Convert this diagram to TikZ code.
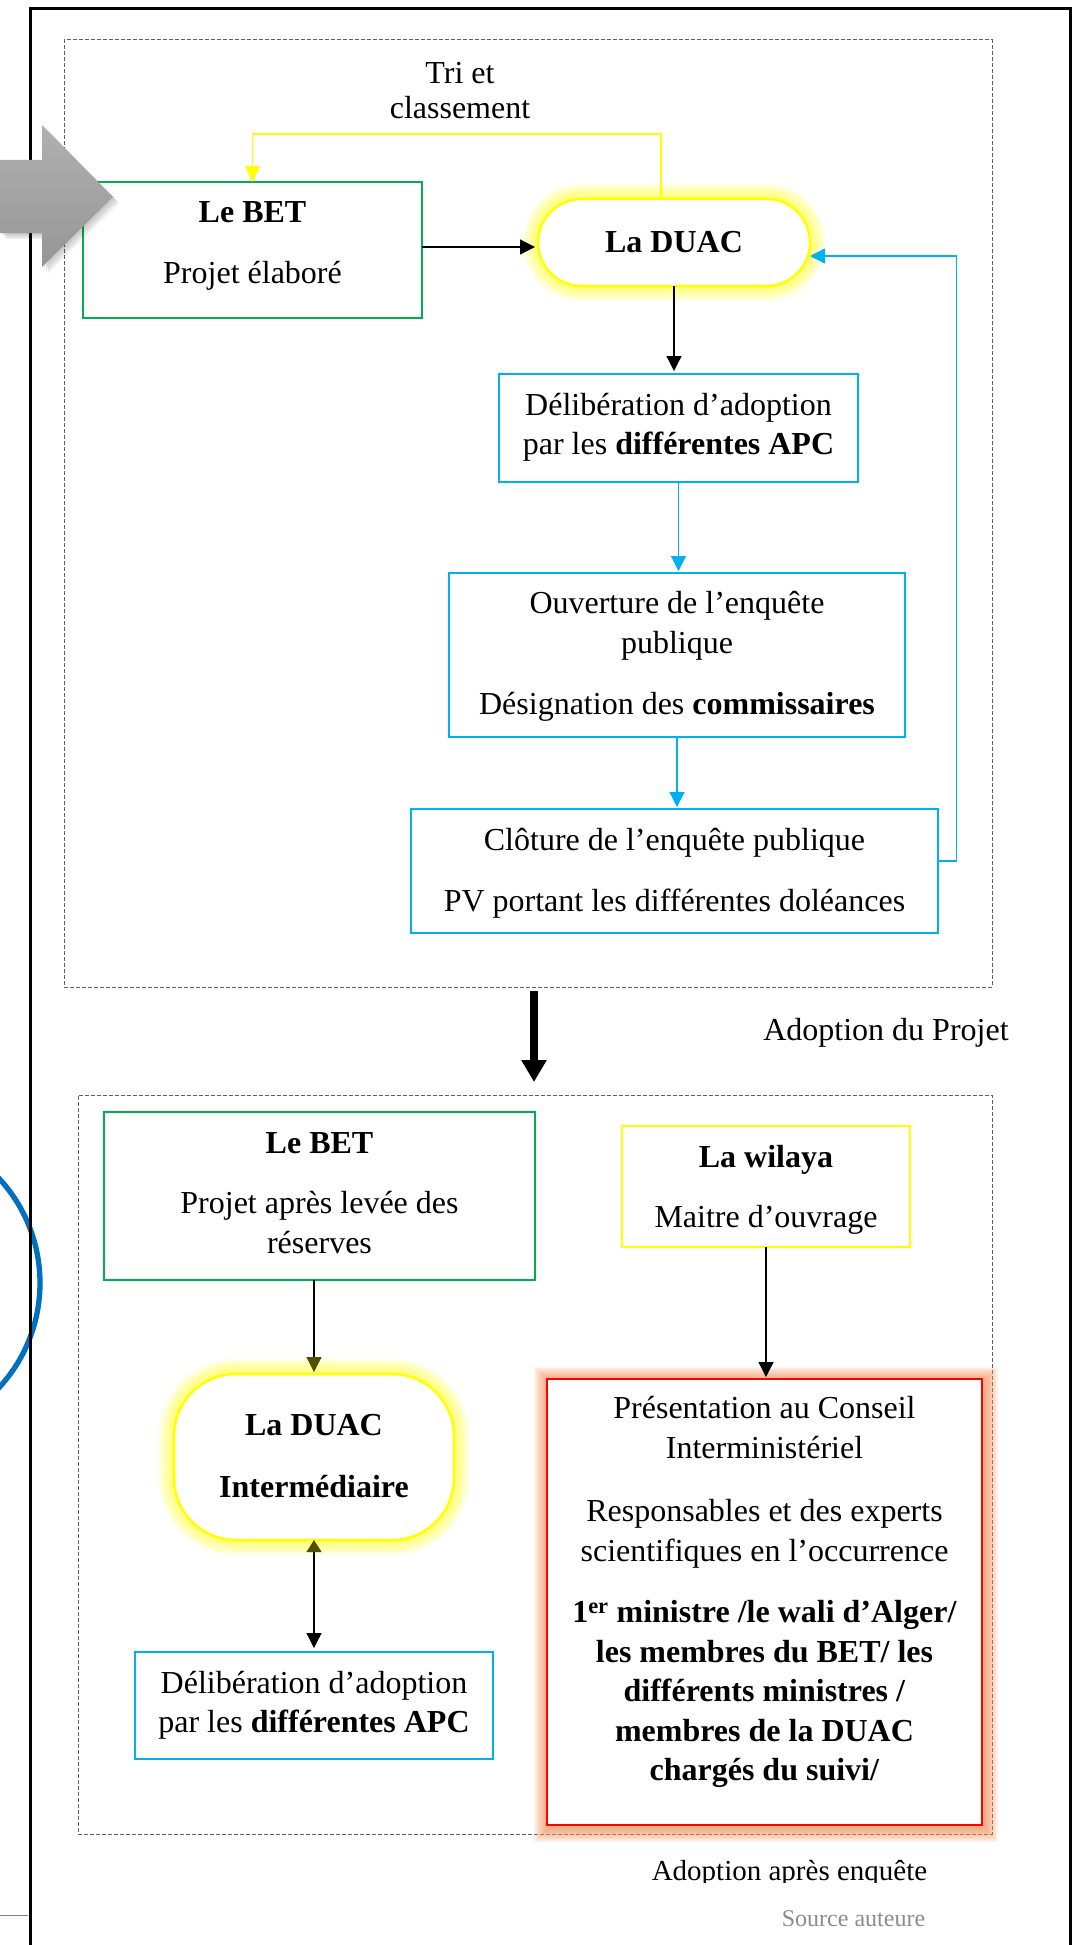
\documentclass[tikz,border=0pt]{standalone}
\usepackage{fontspec}
\setmainfont{Liberation Serif}
\usetikzlibrary{arrows.meta,calc}
\definecolor{cgreen}{RGB}{0,176,80}
\definecolor{ccyan}{RGB}{0,176,240}
\definecolor{cyel}{RGB}{255,255,0}
\definecolor{cred}{RGB}{255,0,0}
\definecolor{cblue}{RGB}{0,112,192}
\definecolor{cglowo}{RGB}{244,150,95}
\definecolor{cgrayA}{RGB}{176,176,176}
\definecolor{cgrayB}{RGB}{150,150,150}
\definecolor{colive}{RGB}{80,80,0}
\definecolor{cdash}{RGB}{95,95,95}
\definecolor{csrc}{RGB}{140,140,140}
\tikzset{
  box/.style={draw, fill=white, inner sep=0pt, outer sep=0pt},
  greenbox/.style={box, draw=cgreen, line width=1.5pt},
  cyanbox/.style={box, draw=ccyan, line width=2pt},
  yelbox/.style={box, draw=cyel, line width=2pt},
  redbox/.style={box, draw=cred, line width=2pt},
  duacbox/.style={box, draw=cyel, line width=2.5pt},
  txt/.style={align=center, inner sep=0pt, font=\fontsize{32}{39.5}\selectfont},
  framebox/.style={draw=cdash, dash pattern=on 4pt off 2pt, line width=1pt, inner sep=0pt, outer sep=0pt},
  blackarr/.style={line width=1.3pt, -{Triangle[width=15pt,length=15pt]}},
  cyanarr/.style={draw=ccyan, line width=1.3pt, -{Triangle[width=15pt,length=15pt]}},
  yelarr/.style={draw=cyel, line width=1.5pt, -{Triangle[width=15pt,length=16pt]}},
  bigarr/.style={line width=8pt, -{Triangle[width=24pt,length=22pt]}}
}
\begin{document}
\begin{tikzpicture}[x=1pt,y=-1pt]
\useasboundingbox (0,0) rectangle (1078,1945);
\clip (0,0) rectangle (1078,1945);
\fill[white] (0,0) rectangle (1078,1945);

% blue arc at left
\draw[cblue, line width=5.3pt] (-114,1283) circle [radius=154pt];

% outer frame
\draw[line width=3pt] (30,1950) -- (30,9) -- (1070,9) -- (1070,1950);
\draw[gray, line width=0.8pt] (0,1915) -- (28,1915);

% dashed frames
\node[framebox, minimum width=928pt, minimum height=947pt] (frame1) at (528,513.5) {};
\node[framebox, minimum width=914pt, minimum height=739pt] (frame2) at (535,1464.5) {};

% glows
\foreach \w in {2,4,...,32}
  \draw[cyel, opacity=0.045, line width=\w pt, rounded corners=43.5pt] (538,199) rectangle (810,286);
\foreach \w in {2,4,...,32}
  \draw[cyel, opacity=0.045, line width=\w pt, rounded corners=62pt] (174,1374) rectangle (454,1540);
\foreach \w in {2,4,...,28}
  \draw[cglowo, opacity=0.085, line width=\w pt] (548,1381) rectangle (984,1828);

% boxes
\node[greenbox, minimum width=339pt, minimum height=136pt] (bet1) at (252.5,250) {};
\node[duacbox, rounded corners=43.5pt, minimum width=272pt, minimum height=87pt] (duac1) at (674,242.5) {};
\node[cyanbox, minimum width=359pt, minimum height=108pt] (delib1) at (678.5,428) {};
\node[cyanbox, minimum width=456pt, minimum height=164pt] (ouv) at (677,655) {};
\node[cyanbox, minimum width=527pt, minimum height=124pt] (clot) at (674.5,871) {};
\node[greenbox, minimum width=431pt, minimum height=168pt] (bet2) at (319.5,1196) {};
\node[yelbox, minimum width=288pt, minimum height=121pt] (wil) at (766,1186.5) {};
\node[duacbox, rounded corners=62pt, minimum width=280pt, minimum height=166pt] (duac2) at (314,1457) {};
\node[cyanbox, minimum width=358pt, minimum height=107pt] (delib2) at (314,1705.5) {};
\node[redbox, minimum width=435pt, minimum height=446pt] (red) at (764.5,1602) {};

% texts
\node[txt, font=\fontsize{32}{35}\selectfont] (tri) at (460,90.5) {Tri et\\classement};
\node[txt] (bet1t) at (252.5,245.5) {\textbf{Le BET}\\[21.5pt]Projet élaboré};
\node[txt] (duac1t) at (674,242) {\textbf{La DUAC}};
\node[txt] (delib1t) at (678.5,427.5) {Délibération d’adoption\\par les \textbf{différentes APC}};
\node[txt] (ouvt) at (677,656.5) {Ouverture de l’enquête\\publique\\[21.5pt]Désignation des \textbf{commissaires}};
\node[txt] (clott) at (674.5,873.5) {Clôture de l’enquête publique\\[21.5pt]PV portant les différentes doléances};
\node[txt, anchor=base] (adopt1) at (886,1040) {Adoption du Projet};
\node[txt] (bet2t) at (319.5,1193) {\textbf{Le BET}\\[20.5pt]Projet après levée des\\réserves};
\node[txt] (wilt) at (766,1190) {\textbf{La wilaya}\\[20.5pt]Maitre d’ouvrage};
\node[txt] (duac2t) at (314,1456) {\textbf{La DUAC}\\[22.5pt]\textbf{Intermédiaire}};
\node[txt] (delib2t) at (314,1705.5) {Délibération d’adoption\\par les \textbf{différentes APC}};
\node[txt] (redt) at (764.5,1592) {Présentation au Conseil\\Interministériel\\[24pt]Responsables et des experts\\scientifiques en l’occurrence\\[22pt]\textbf{1\textsuperscript{er} ministre /le wali d’Alger/}\\\textbf{les membres du BET/ les}\\\textbf{différents ministres /}\\\textbf{membres de la DUAC}\\\textbf{chargés du suivi/}};
\begin{scope}
\clip (600,1840) rectangle (1000,1882);
\node[txt, anchor=base, font=\fontsize{29}{34}\selectfont] (adopt2) at (789.5,1880) {Adoption après enquête};
\end{scope}
\node[txt, anchor=base, font=\fontsize{24}{28}\selectfont, text=csrc] (src) at (853.5,1926) {Source auteure};

% connectors top
\draw[yelarr] ([xshift=-13pt]duac1.north) -- ++(0,-65) -| (bet1.north);
\draw[blackarr, shorten >=3pt] ([yshift=3pt]bet1.east) -- ([yshift=3pt]bet1.east -| duac1.west);
\draw[blackarr, shorten >=3pt] (duac1.south) -- (duac1.south |- delib1.north);
\draw[cyanarr, shorten >=2pt] (delib1.south) -- (delib1.south |- ouv.north);
\draw[cyanarr, shorten >=2pt] (ouv.south) -- (ouv.south |- clot.north);
\draw[cyanarr] ([yshift=10pt]clot.east) -- ++(18.5,0) |- ([yshift=-13.5pt]duac1.east);

% big arrow between the two frames
\coordinate (bigx) at (534,0);
\draw[bigarr] ([yshift=-4pt]frame1.south -| bigx) -- ([yshift=13pt]frame2.north -| bigx);

% connectors bottom
\draw[line width=1.3pt, -{Triangle[width=15pt,length=15pt,color=colive]}, shorten >=2pt] (bet2.south -| duac2.north) -- (duac2.north);
\draw[line width=1.3pt, {Triangle[width=15pt,length=12pt,color=colive]}-{Triangle[width=15pt,length=15pt]}, shorten >=4pt] (duac2.south) -- (delib2.north);
\draw[blackarr, shorten >=2pt] (wil.south) -- (wil.south |- red.north);

% gray arrow with soft shadow
\foreach \s in {2,4,6}
  \fill[black, opacity=0.07, shift={(\s,\s)}] (0,160) -- (42,160) -- (42,125) -- (113,197) -- (42,267) -- (42,233) -- (0,233) -- cycle;
\shade[top color=cgrayA, bottom color=cgrayB] (0,160) -- (42,160) -- (42,125) -- (113,197) -- (42,267) -- (42,233) -- (0,233) -- cycle;
\end{tikzpicture}
\end{document}
